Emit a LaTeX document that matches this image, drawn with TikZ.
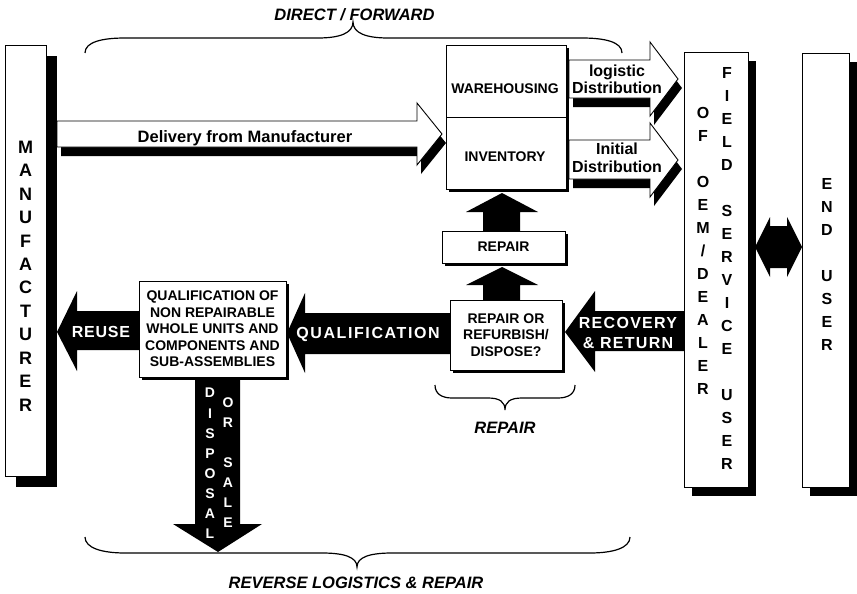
\documentclass[tikz,border=0pt]{standalone}
\usepackage{fontspec}
\setmainfont{Liberation Sans}
\usetikzlibrary{shadows}
\begin{document}
\begin{tikzpicture}[x=1pt,y=-1pt,
  box/.style={draw=black, fill=white, line width=0.9pt, inner sep=0pt},
  sh3/.style={drop shadow={shadow xshift=3pt,shadow yshift=-3pt,fill=black,opacity=1}},
  sh8/.style={drop shadow={shadow xshift=8pt,shadow yshift=-9pt,fill=black,opacity=1}},
  sh11/.style={drop shadow={shadow xshift=11pt,shadow yshift=-11pt,fill=black,opacity=1}},
  lbl/.style={font=\bfseries\fontsize{14}{16.5}\selectfont, align=center, inner sep=0pt},
  wlbl/.style={text=white, align=center, inner sep=0pt},
  ital/.style={font=\bfseries\itshape\fontsize{16.5}{20}\selectfont, inner sep=0pt},
  dist/.style={font=\bfseries\fontsize{16}{17}\selectfont, align=center, inner sep=0pt},
  stack/.style={align=center, inner sep=0pt},
  warrow/.style={draw=black, fill=white, line width=0.9pt, line join=miter},
  bracepath/.style={draw=black, line width=1.2pt},
]
\fill[white] (0,0) rectangle (857,594);
\useasboundingbox (0,0) rectangle (857,594);

% ---- white block arrows with shadows ----
\fill[black, shift={(4,9)}] (57,121) -- (417,121) -- (417,103) -- (442,134) -- (417,165) -- (417,147) -- (57,147) -- cycle;
\draw[warrow] (57,121) -- (417,121) -- (417,103) -- (442,134) -- (417,165) -- (417,147) -- (57,147) -- cycle;

\fill[black, shift={(4,9)}] (569,60) -- (650,60) -- (650,42) -- (678,79) -- (650,116) -- (650,98) -- (569,98) -- cycle;
\draw[warrow] (569,60) -- (650,60) -- (650,42) -- (678,79) -- (650,116) -- (650,98) -- (569,98) -- cycle;

\fill[black, shift={(4,9)}] (569,140) -- (650,140) -- (650,123) -- (678,160) -- (650,197) -- (650,179) -- (569,179) -- cycle;
\draw[warrow] (569,140) -- (650,140) -- (650,123) -- (678,160) -- (650,197) -- (650,179) -- (569,179) -- cycle;

% ---- black block arrows ----
\fill[black] (57,332) -- (77,291) -- (77,311) -- (139,311) -- (139,350) -- (77,350) -- (77,371) -- cycle;
\fill[black] (287,333) -- (305,293) -- (305,313) -- (450,313) -- (450,354) -- (305,354) -- (305,373) -- cycle;
\fill[black] (565,332) -- (595,291) -- (595,311) -- (684,311) -- (684,351) -- (595,351) -- (595,372) -- cycle;
\fill[black] (502,193) -- (538,212) -- (520,212) -- (520,231) -- (483,231) -- (483,212) -- (466,212) -- cycle;
\fill[black] (502,267) -- (538,285) -- (520,285) -- (520,300) -- (483,300) -- (483,285) -- (466,285) -- cycle;
\fill[black] (195,377) -- (240,377) -- (240,524) -- (262,524) -- (218,552) -- (173,524) -- (195,524) -- cycle;

% ---- boxes ----
\node[box, sh11, minimum width=41pt, minimum height=431pt] (manu) at (25.5,260.5) {};
\node[stack, font=\bfseries\fontsize{18}{23.45}\selectfont] (manutext) at (25.5,276) {M\\A\\N\\U\\F\\A\\C\\T\\U\\R\\E\\R};

\node[box, sh3, minimum width=120pt, minimum height=72pt] (wh) at (506,81) {};
\node[box, sh3, minimum width=120pt, minimum height=72pt] (inv) at (506,153) {};
\node[lbl] (whlbl) at (505,89) {WAREHOUSING};
\node[lbl] (invlbl) at (505,157) {INVENTORY};

\node[box, sh3, lbl, minimum width=123pt, minimum height=32pt] (rep) at (503.5,247) {REPAIR};
\node[box, sh3, lbl, minimum width=112pt, minimum height=70pt] (rod) at (506,335) {REPAIR OR\\REFURBISH/\\DISPOSE?};
\node[box, sh3, lbl, minimum width=147pt, minimum height=96pt] (qual) at (212.5,329) {QUALIFICATION OF\\NON REPAIRABLE\\WHOLE UNITS AND\\COMPONENTS AND\\SUB-ASSEMBLIES};

\node[box, sh8, minimum width=64pt, minimum height=435pt] (fs) at (716,269.5) {};
\node[box, sh8, minimum width=47pt, minimum height=434pt] (eu) at (825.5,270) {};

\node[stack, font=\bfseries\fontsize{16}{23}\selectfont] (fscol1) at (703,251) {O\\F\\~\\O\\E\\M\\/\\D\\E\\A\\L\\E\\R};
\node[stack, font=\bfseries\fontsize{16}{23}\selectfont] (fscol2) at (727,268.5) {F\\I\\E\\L\\D\\~\\S\\E\\R\\V\\I\\C\\E\\~\\U\\S\\E\\R};
\node[stack, font=\bfseries\fontsize{16}{23}\selectfont] (eutext) at (827,264.5) {E\\N\\D\\~\\U\\S\\E\\R};

% double arrow between field service and end user
\fill[black] (755,247) -- (770,217) -- (770,226) -- (787,226) -- (787,217) -- (802,247) -- (787,277) -- (787,268) -- (770,268) -- (770,277) -- cycle;

% ---- arrow labels ----
\node[font=\bfseries\fontsize{16.5}{20}\selectfont, inner sep=0pt] (dlvl) at (245,138.5) {Delivery from Manufacturer};
\node[dist] (logl) at (617,79) {logistic\\Distribution};
\node[dist, font=\bfseries\fontsize{16}{18}\selectfont] (inil) at (617,157.5) {Initial\\Distribution};

\node[wlbl, font=\bfseries\fontsize{16}{20}\selectfont\addfontfeatures{LetterSpace=5}] (reusel) at (101,332) {REUSE};
\node[wlbl, font=\bfseries\fontsize{16}{20}\selectfont\addfontfeatures{LetterSpace=10}] (quall) at (368,334) {QUALIFICATION};
\node[wlbl, font=\bfseries\fontsize{16}{20}\selectfont\addfontfeatures{LetterSpace=8}] (recl) at (628,333) {RECOVERY\\\& RETURN};
\node[wlbl, stack, font=\bfseries\fontsize{14}{20.1}\selectfont] (displ) at (210,463.5) {D\\I\\S\\P\\O\\S\\A\\L};
\node[wlbl, stack, font=\bfseries\fontsize{14}{20.1}\selectfont] (orsalel) at (228,462.5) {O\\R\\~\\S\\A\\L\\E};

% ---- braces ----
\draw[bracepath] (85,53) .. controls (85,42) and (102,38) .. (125,38) -- (318,38)
  .. controls (340,38) and (353,33) .. (353,22)
  .. controls (353,33) and (366,38) .. (388,38) -- (582,38)
  .. controls (605,38) and (622,42) .. (622,53);
\draw[bracepath] (435,385) .. controls (435,394) and (442,398) .. (452,398) -- (488,398)
  .. controls (500,398) and (505,402) .. (505,410)
  .. controls (505,402) and (510,398) .. (522,398) -- (558,398)
  .. controls (568,398) and (575,394) .. (575,385);
\draw[bracepath] (85,537) .. controls (85,548) and (102,553) .. (125,553) -- (322,553)
  .. controls (344,553) and (357,557) .. (357,567)
  .. controls (357,557) and (370,553) .. (392,553) -- (590,553)
  .. controls (613,553) and (630,548) .. (630,537);

\node[ital] (dirlbl) at (354.5,14.5) {DIRECT / FORWARD};
\node[ital] (replbl) at (505,427.5) {REPAIR};
\node[ital] (revlbl) at (356,582.5) {REVERSE LOGISTICS \& REPAIR};
\end{tikzpicture}
\end{document}
